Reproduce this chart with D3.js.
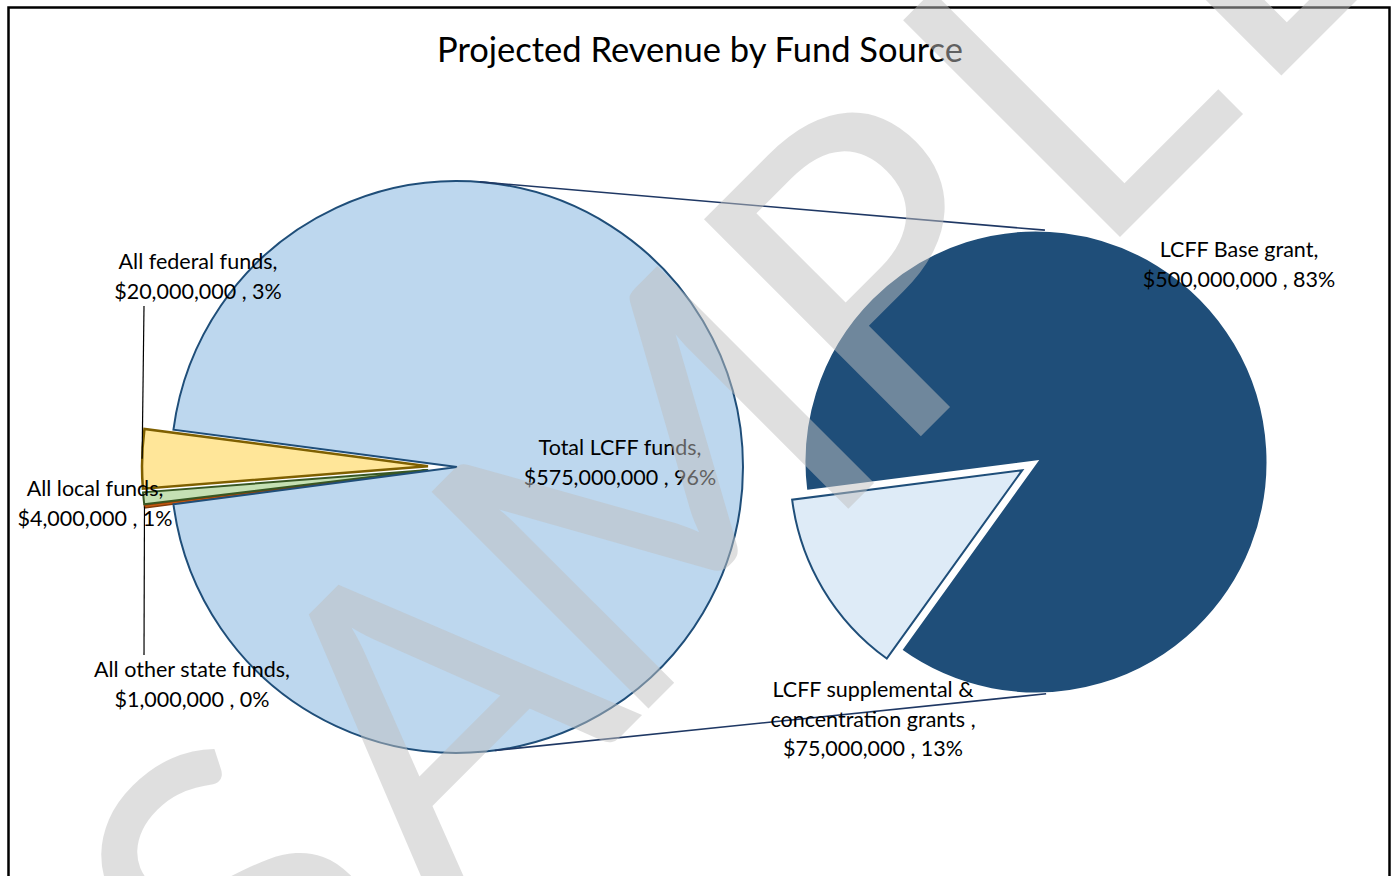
<!DOCTYPE html>
<html>
<head>
<meta charset="utf-8">
<script src="https://cdn.jsdelivr.net/npm/d3@7"></script>
<style>
  body { margin: 0; background: #fff; }
  text { font-family: Lato, "Open Sans", sans-serif; }
</style>
</head>
<body>
<svg id="chart" width="1392" height="876"></svg>
<script>
// Pie of pie — projected revenue by fund source.

// primary pie, drawn clockwise from the bottom of the small-slice group
const primaryNames  = [["All other state funds,"], ["All local funds,"], ["All federal funds,"], ["Total LCFF funds,"]];
const primaryValues = [1000000, 4000000, 20000000, 575000000];
const primaryFills  = ["#c55a11", "#c5e0b4", "#ffe699", "#bdd7ee"];
const primaryLines  = ["#843c0c", "#385723", "#7f6000", "#1f4e79"];

// secondary pie splits "Total LCFF funds"
const secondaryNames  = [["LCFF supplemental &", "concentration grants ,"], ["LCFF Base grant,"]];
const secondaryValues = [75000000, 500000000];
const secondaryFills  = ["#deebf7", "#1f4e79"];
const secondaryLines  = ["#1f4e79", "#ffffff"];

const title = "Projected Revenue by Fund Source";
const watermark = "SAMPLE";

const width = 1392, height = 876;
const deg = Math.PI / 180;

const leftPie  = { cx: 457, cy: 467, r: 286, explode: 29 };
const rightPie = { cx: 1036, cy: 462, r: 232, explode: 16 };

// label anchors (centre x, first baseline), same order as the data
const primaryLabelPos   = [[192, 677], [95, 496], [198, 269], [620, 455]];
const secondaryLabelPos = [[873, 697], [1239, 257]];
const lineGap = 29.5;

// watermark: baseline origin, angle, letter centres along the baseline
const wmOrigin = [634, 723], wmAngle = -45, wmSize = 428;
const wmCentres = [-405, -130, 180, 495, 758, 1000];

const total = d3.sum(primaryValues);
const fmtMoney = d3.format("$,");
const fmtPct = d3.format(".0%");

const svg = d3.select("#chart");
svg.append("rect").attr("width", width).attr("height", height).attr("fill", "#fff");

// frame
svg.append("rect")
  .attr("x", 8.5).attr("y", 7.5)
  .attr("width", 1381).attr("height", 900)
  .attr("fill", "none").attr("stroke", "#000").attr("stroke-width", 2.5);

svg.append("text")
  .attr("x", 700).attr("y", 62)
  .attr("text-anchor", "middle")
  .attr("font-size", 34.5)
  .attr("fill", "#000")
  .text(title);

// ---- primary pie ----
const primaryData = primaryValues.map((v, i) => ({
  names: primaryNames[i], value: v, fill: primaryFills[i], line: primaryLines[i]
}));
const smallSum = d3.sum(primaryValues.slice(0, 3));
const pStart = 1.5 * Math.PI - (smallSum / total) * Math.PI;

const pieP = d3.pie().sort(null).value(d => d.value)
  .startAngle(pStart).endAngle(pStart + 2 * Math.PI);
const arcP = d3.arc().innerRadius(0).outerRadius(leftPie.r);
const arcsP = pieP(primaryData);

const gL = svg.append("g").attr("transform", `translate(${leftPie.cx},${leftPie.cy})`);

gL.selectAll("path")
  .data(arcsP).join("path")
  .attr("transform", (d, i) => {
    if (i === 3) return null;
    const [dx, dy] = d3.pointRadial((d.startAngle + d.endAngle) / 2, leftPie.explode);
    return `translate(${dx},${dy})`;
  })
  .attr("d", arcP)
  .attr("fill", d => d.data.fill)
  .attr("stroke", d => d.data.line)
  .attr("stroke-width", (d, i) => i === 0 ? 1.5 : (i === 2 ? 2.5 : 2));

// ---- secondary pie ----
const secondaryData = secondaryValues.map((v, i) => ({
  names: secondaryNames[i], value: v, fill: secondaryFills[i], line: secondaryLines[i]
}));
const firstSpan = secondaryValues[0] / d3.sum(secondaryValues) * 2 * Math.PI;
const sStart = 262.7 * deg - firstSpan;
const pieS = d3.pie().sort(null).value(d => d.value)
  .startAngle(sStart).endAngle(sStart + 2 * Math.PI);
const arcS = d3.arc().innerRadius(0).outerRadius(rightPie.r);
const arcsS = pieS(secondaryData);

const gR = svg.append("g").attr("transform", `translate(${rightPie.cx},${rightPie.cy})`);
gR.selectAll("path")
  .data(arcsS.slice().reverse()).join("path")
  .attr("transform", d => {
    if (d.index !== 0) return null;
    const [dx, dy] = d3.pointRadial((d.startAngle + d.endAngle) / 2, rightPie.explode);
    return `translate(${dx},${dy})`;
  })
  .attr("d", arcS)
  .attr("fill", d => d.data.fill)
  .attr("stroke", d => d.data.line)
  .attr("stroke-width", d => d.index === 0 ? 2 : 3);

// series lines between the pies
const joins = [[4.6, 2.2], [172.4, 177.5]];
joins.forEach(([a, b]) => {
  const [x1, y1] = d3.pointRadial(a * deg, leftPie.r);
  const [x2, y2] = d3.pointRadial(b * deg, rightPie.r);
  svg.append("line")
    .attr("x1", leftPie.cx + x1).attr("y1", leftPie.cy + y1)
    .attr("x2", rightPie.cx + x2).attr("y2", rightPie.cy + y2)
    .attr("stroke", "#1f3864").attr("stroke-width", 1.6);
});

// leader lines for federal and other state
[[2, 306], [0, 655]].forEach(([i, yEnd]) => {
  const d = arcsP[i];
  const mid = (d.startAngle + d.endAngle) / 2;
  const [ex, ey] = d3.pointRadial(mid, leftPie.explode);
  const [ox, oy] = d3.pointRadial(mid, leftPie.r);
  const x0 = leftPie.cx + ex + ox, y0 = leftPie.cy + ey + oy;
  svg.append("line")
    .attr("x1", x0).attr("y1", y0)
    .attr("x2", 144).attr("y2", yEnd)
    .attr("stroke", "#000").attr("stroke-width", 1.2);
});

// data labels
function drawLabel(names, value, pos) {
  const lines = names.concat([`${fmtMoney(value)} , ${fmtPct(value / total)}`]);
  const t = svg.append("text")
    .attr("text-anchor", "middle")
    .attr("font-size", 21.5)
    .attr("fill", "#000");
  lines.forEach((s, k) => {
    t.append("tspan").attr("x", pos[0]).attr("y", pos[1] + k * lineGap).text(s);
  });
}
primaryData.forEach((d, i) => drawLabel(d.names, d.value, primaryLabelPos[i]));
secondaryData.forEach((d, i) => drawLabel(d.names, d.value, secondaryLabelPos[i]));

// watermark over everything, one letter at a time
const wm = svg.append("g")
  .attr("transform", `translate(${wmOrigin[0]},${wmOrigin[1]}) rotate(${wmAngle})`)
  .attr("fill", "#c0c0c0")
  .attr("fill-opacity", 0.5);
watermark.split("").forEach((ch, i) => {
  const t = wm.append("text").attr("font-size", wmSize).attr("text-anchor", "middle").text(ch);
  const b = t.node().getBBox();
  t.attr("x", wmCentres[i] - (b.x + b.width / 2));
});
</script>
</body>
</html>
